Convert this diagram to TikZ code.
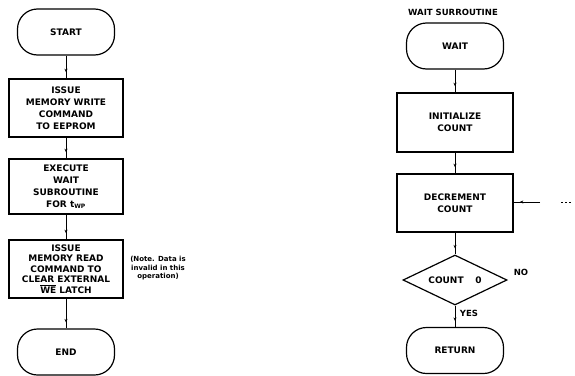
\documentclass[tikz,border=0pt]{standalone}
\usepackage{fontspec}
\setmainfont{DejaVu Sans}
\usetikzlibrary{shapes.geometric,arrows.meta,decorations.markings}
\tikzset{
  box/.style={draw, line width=1.6pt, rectangle, align=center, font=\bfseries\fontsize{9}{12}\selectfont, inner sep=0pt},
  term/.style={draw, line width=1.2pt, rectangle, rounded corners=20pt, align=center, font=\bfseries\fontsize{9}{12}\selectfont, minimum width=97pt, minimum height=46pt},
  dec/.style={draw, line width=1.2pt, diamond, aspect=2.08, inner sep=0pt, minimum width=104pt, minimum height=50pt, font=\bfseries\fontsize{9}{12}\selectfont},
  lbl/.style={font=\bfseries\fontsize{8.5}{10}\selectfont, inner sep=0pt},
  note/.style={font=\bfseries\fontsize{7}{8.5}\selectfont, align=center, inner sep=0pt},
  flow/.style={line width=0.8pt, postaction={decorate}, decoration={markings, mark=at position -6pt with {\arrow{Stealth[length=3.5pt,width=3pt]}}}}
}
\begin{document}
\begin{tikzpicture}[x=1pt,y=-1pt]
\useasboundingbox (0,0) rectangle (575,375);
% left column
\node[term] (start) at (66,32) {START};
\node[box, minimum width=114pt, minimum height=58pt] (b1) at (66,108) {ISSUE\\MEMORY WRITE\\COMMAND\\TO EEPROM};
\node[box, minimum width=114pt, minimum height=55pt] (b2) at (66,186.5) {EXECUTE\\WAIT\\SUBROUTINE\\FOR t$_{\mathbf{WP}}$};
\node[box, minimum width=114pt, minimum height=58pt, font=\bfseries\fontsize{9}{10.5}\selectfont] (b3) at (66,269) {ISSUE\\MEMORY READ\\COMMAND TO\\CLEAR EXTERNAL\\$\overline{\mbox{WE}}$ LATCH};
\node[term] (end) at (66,352) {END};
\node[note] (nt) at (158,268.5) {(Note. Data is\\invalid in this\\operation)};
\draw[flow] (start) -- (b1);
\draw[flow] (b1) -- (b2);
\draw[flow] (b2) -- (b3);
\draw[flow] (b3) -- (end);
% right column
\node[lbl] (title) at (453,12) {WAIT SURROUTINE};
\node[term] (wait) at (455,46) {WAIT};
\node[box, minimum width=116pt, minimum height=59pt] (init) at (455,122.5) {INITIALIZE\\COUNT};
\node[box, minimum width=116pt, minimum height=58pt] (decr) at (455,203) {DECREMENT\\COUNT};
\node[dec] (cnt) at (455,280) {COUNT\hspace{1.3em}0};
\node[term] (ret) at (455,350.5) {RETURN};
\node[lbl] (no) at (521,272) {NO};
\node[lbl] (yes) at (469,313) {YES};
\coordinate (in) at (540,202);
\coordinate (d1) at (561,202);
\coordinate (d2) at (572,202);
\draw[flow] (wait) -- (init);
\draw[flow] (init) -- (decr);
\draw[flow] (decr) -- (cnt);
\draw[flow] (cnt) -- (ret);
\draw[flow] (in) -- (decr.east |- in);
\draw[line width=0.8pt, dash pattern=on 2pt off 2pt] (d1) -- (d2);
\end{tikzpicture}
\end{document}
